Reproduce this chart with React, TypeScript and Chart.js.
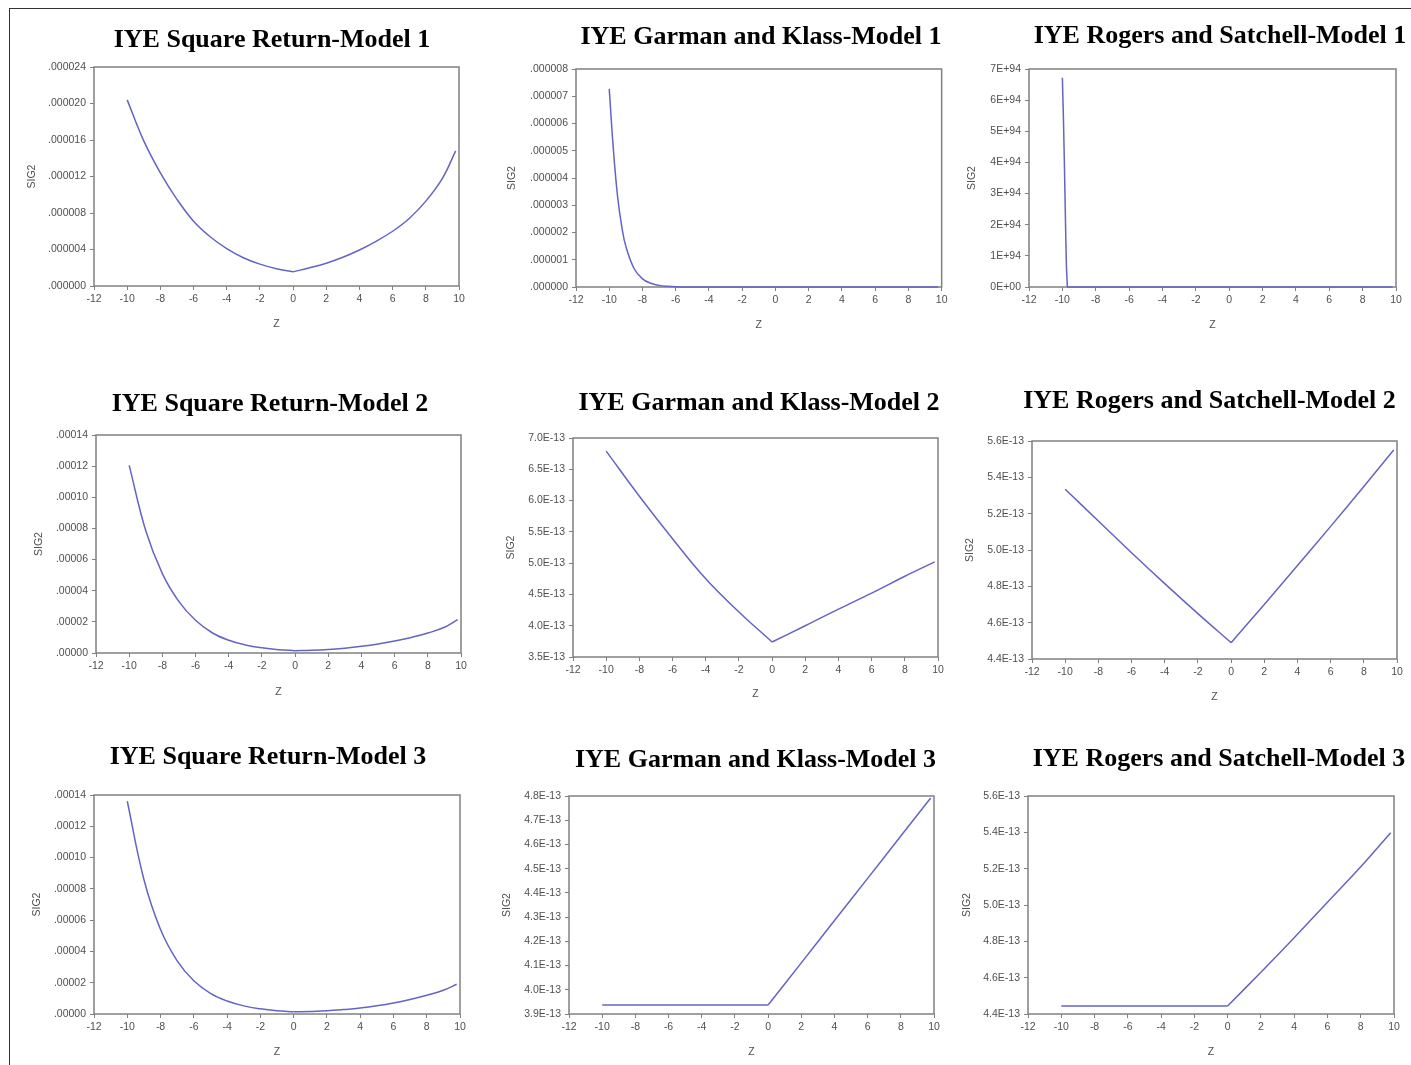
import React, { useEffect, useRef } from 'react';
import { Chart, registerables } from 'chart.js';

Chart.register(...registerables);

// ---------- data ----------
const X_TICKS = [-12, -10, -8, -6, -4, -2, 0, 2, 4, 6, 8, 10];
const X_TICK_LABELS = ['-12', '-10', '-8', '-6', '-4', '-2', '0', '2', '4', '6', '8', '10'];

const Z_INT_LEFT = [-10, -9, -8, -7, -6, -5, -4, -3, -2, -1, 0];
const Z_INT_RIGHT = [0, 1, 2, 3, 4, 5, 6, 7, 8, 9, 9.8];
const Z_EVEN_LEFT = [-10, -8, -6, -4, -2, 0];
const Z_EVEN_RIGHT = [0, 2, 4, 6, 8, 9.8];
const GK1_Z_LEFT = [-10, -9.75, -9.5, -9.25, -9, -8.5, -8, -7.5, -7, -6.5, -6, -5, -4, -2, 0];
const RS1_Z_LEFT = [-10, -9.94, -9.88, -9.82, -9.76, -9.7, -8, -6, -4, -2, 0];

// Square Return - Model 1
const SR1_LEFT = [20.4e-6, 15.9e-6, 12.4e-6, 9.5e-6, 7.1e-6, 5.4e-6, 4.1e-6, 3.1e-6, 2.4e-6, 1.9e-6, 1.55e-6];
const SR1_RIGHT = [1.55e-6, 2.0e-6, 2.5e-6, 3.15e-6, 3.95e-6, 4.9e-6, 6.0e-6, 7.4e-6, 9.3e-6, 11.8e-6, 14.8e-6];
// Garman and Klass - Model 1
const GK1_LEFT = [7.27e-6, 5.04e-6, 3.33e-6, 2.23e-6, 1.49e-6, 0.67e-6, 0.30e-6, 0.135e-6, 0.06e-6, 0.027e-6, 0.012e-6, 0.0025e-6, 0.0005e-6, 0.00002e-6, 0.000001e-6];
const GK1_RIGHT = [1e-12, 1e-12, 1e-12, 2e-12, 2e-12, 3e-12];
// Rogers and Satchell - Model 1
const RS1_LEFT = [6.72e94, 5.5e94, 4.0e94, 2.3e94, 0.7e94, 0, 0, 0, 0, 0, 0];
const RS1_RIGHT = [0, 0, 0, 0, 0, 0];
// Square Return - Model 2
const SR2_LEFT = [12.05e-5, 7.85e-5, 5.1e-5, 3.3e-5, 2.1e-5, 1.3e-5, 0.82e-5, 0.52e-5, 0.33e-5, 0.21e-5, 0.15e-5];
const SR2_RIGHT = [0.15e-5, 0.17e-5, 0.22e-5, 0.31e-5, 0.43e-5, 0.58e-5, 0.77e-5, 1.0e-5, 1.28e-5, 1.65e-5, 2.14e-5];
// Garman and Klass - Model 2
const GK2_LEFT = [6.79e-13, 6.07e-13, 5.39e-13, 4.75e-13, 4.22e-13, 3.74e-13];
const GK2_RIGHT = [3.74e-13, 4.0e-13, 4.265e-13, 4.52e-13, 4.79e-13, 5.02e-13];
// Rogers and Satchell - Model 2
const RS2_LEFT = [5.334e-13, 5.16e-13, 4.985e-13, 4.815e-13, 4.65e-13, 4.49e-13];
const RS2_RIGHT = [4.49e-13, 4.70e-13, 4.915e-13, 5.13e-13, 5.35e-13, 5.55e-13];
// Square Return - Model 3
const SR3_LEFT = [13.6e-5, 8.6e-5, 5.4e-5, 3.4e-5, 2.12e-5, 1.32e-5, 0.83e-5, 0.52e-5, 0.33e-5, 0.21e-5, 0.14e-5];
const SR3_RIGHT = [0.14e-5, 0.16e-5, 0.2e-5, 0.28e-5, 0.38e-5, 0.52e-5, 0.7e-5, 0.93e-5, 1.2e-5, 1.52e-5, 1.9e-5];
// Garman and Klass - Model 3
const GK3_LEFT = [3.937e-13, 3.937e-13, 3.937e-13, 3.937e-13, 3.937e-13, 3.937e-13];
const GK3_RIGHT = [3.937e-13, 4.111e-13, 4.286e-13, 4.46e-13, 4.635e-13, 4.792e-13];
// Rogers and Satchell - Model 3
const RS3_LEFT = [4.444e-13, 4.444e-13, 4.444e-13, 4.444e-13, 4.444e-13, 4.444e-13];
const RS3_RIGHT = [4.444e-13, 4.63e-13, 4.82e-13, 5.015e-13, 5.21e-13, 5.398e-13];

// y-axis ticks
const Y_TICKS_SR1 = [0, 4e-6, 8e-6, 12e-6, 16e-6, 20e-6, 24e-6];
const Y_LABELS_SR1 = ['.000000', '.000004', '.000008', '.000012', '.000016', '.000020', '.000024'];
const Y_TICKS_GK1 = [0, 1e-6, 2e-6, 3e-6, 4e-6, 5e-6, 6e-6, 7e-6, 8e-6];
const Y_LABELS_GK1 = ['.000000', '.000001', '.000002', '.000003', '.000004', '.000005', '.000006', '.000007', '.000008'];
const Y_TICKS_RS1 = [0, 1e94, 2e94, 3e94, 4e94, 5e94, 6e94, 7e94];
const Y_LABELS_RS1 = ['0E+00', '1E+94', '2E+94', '3E+94', '4E+94', '5E+94', '6E+94', '7E+94'];
const Y_TICKS_SR23 = [0, 2e-5, 4e-5, 6e-5, 8e-5, 10e-5, 12e-5, 14e-5];
const Y_LABELS_SR23 = ['.00000', '.00002', '.00004', '.00006', '.00008', '.00010', '.00012', '.00014'];
const Y_TICKS_GK2 = [3.5e-13, 4.0e-13, 4.5e-13, 5.0e-13, 5.5e-13, 6.0e-13, 6.5e-13, 7.0e-13];
const Y_LABELS_GK2 = ['3.5E-13', '4.0E-13', '4.5E-13', '5.0E-13', '5.5E-13', '6.0E-13', '6.5E-13', '7.0E-13'];
const Y_TICKS_RS23 = [4.4e-13, 4.6e-13, 4.8e-13, 5.0e-13, 5.2e-13, 5.4e-13, 5.6e-13];
const Y_LABELS_RS23 = ['4.4E-13', '4.6E-13', '4.8E-13', '5.0E-13', '5.2E-13', '5.4E-13', '5.6E-13'];
const Y_TICKS_GK3 = [3.9e-13, 4.0e-13, 4.1e-13, 4.2e-13, 4.3e-13, 4.4e-13, 4.5e-13, 4.6e-13, 4.7e-13, 4.8e-13];
const Y_LABELS_GK3 = ['3.9E-13', '4.0E-13', '4.1E-13', '4.2E-13', '4.3E-13', '4.4E-13', '4.5E-13', '4.6E-13', '4.7E-13', '4.8E-13'];

// ---------- styles ----------
const FONT_SANS = '"Liberation Sans", Arial, sans-serif';
const FONT_SERIF = '"Liberation Serif", "Times New Roman", serif';
const LINE_COLOR = '#6464c6';
const FRAME_COLOR = '#808080';
const LABEL_COLOR = '#4f4f4f';
const TICK_FONT = 10.5;
const TITLE_FONT = 26;

type Series = { x: number[]; y: number[] };
type Panel = {
  title: string;
  cell: [number, number, number, number];
  plot: [number, number, number, number];
  titlePos: [number, number];
  sig2X: number;
  zY: number;
  yTicks: number[];
  yLabels: string[];
  series: Series[];
  smooth: boolean;
};

const PANELS: Panel[] = [
  { title: 'IYE Square Return-Model 1', cell: [0, 0, 483, 362], plot: [94, 67, 459, 286], titlePos: [272, 40.5], sig2X: 32, zY: 324, yTicks: Y_TICKS_SR1, yLabels: Y_LABELS_SR1, series: [{ x: Z_INT_LEFT, y: SR1_LEFT }, { x: Z_INT_RIGHT, y: SR1_RIGHT }], smooth: true },
  { title: 'IYE Garman and Klass-Model 1', cell: [483, 0, 467, 362], plot: [576, 69, 942, 287], titlePos: [761, 37], sig2X: 512, zY: 325, yTicks: Y_TICKS_GK1, yLabels: Y_LABELS_GK1, series: [{ x: GK1_Z_LEFT, y: GK1_LEFT }, { x: Z_EVEN_RIGHT, y: GK1_RIGHT }], smooth: true },
  { title: 'IYE Rogers and Satchell-Model 1', cell: [950, 0, 461, 362], plot: [1029, 69, 1396, 287], titlePos: [1220, 36.5], sig2X: 972, zY: 325, yTicks: Y_TICKS_RS1, yLabels: Y_LABELS_RS1, series: [{ x: RS1_Z_LEFT, y: RS1_LEFT }, { x: Z_EVEN_RIGHT, y: RS1_RIGHT }], smooth: false },

  { title: 'IYE Square Return-Model 2', cell: [0, 362, 483, 356], plot: [96, 435, 461, 653], titlePos: [270, 404], sig2X: 39, zY: 692, yTicks: Y_TICKS_SR23, yLabels: Y_LABELS_SR23, series: [{ x: Z_INT_LEFT, y: SR2_LEFT }, { x: Z_INT_RIGHT, y: SR2_RIGHT }], smooth: true },
  { title: 'IYE Garman and Klass-Model 2', cell: [483, 362, 467, 356], plot: [573, 438, 938, 657], titlePos: [759, 403], sig2X: 511, zY: 694, yTicks: Y_TICKS_GK2, yLabels: Y_LABELS_GK2, series: [{ x: Z_EVEN_LEFT, y: GK2_LEFT }, { x: Z_EVEN_RIGHT, y: GK2_RIGHT }], smooth: true },
  { title: 'IYE Rogers and Satchell-Model 2', cell: [950, 362, 461, 356], plot: [1032, 441, 1397, 659], titlePos: [1209.5, 401], sig2X: 970, zY: 697, yTicks: Y_TICKS_RS23, yLabels: Y_LABELS_RS23, series: [{ x: Z_EVEN_LEFT, y: RS2_LEFT }, { x: Z_EVEN_RIGHT, y: RS2_RIGHT }], smooth: true },

  { title: 'IYE Square Return-Model 3', cell: [0, 718, 483, 347], plot: [94, 795, 460, 1014], titlePos: [268, 757.5], sig2X: 37.5, zY: 1052, yTicks: Y_TICKS_SR23, yLabels: Y_LABELS_SR23, series: [{ x: Z_INT_LEFT, y: SR3_LEFT }, { x: Z_INT_RIGHT, y: SR3_RIGHT }], smooth: true },
  { title: 'IYE Garman and Klass-Model 3', cell: [483, 718, 467, 347], plot: [569, 796, 934, 1014], titlePos: [755.5, 760], sig2X: 507.5, zY: 1052, yTicks: Y_TICKS_GK3, yLabels: Y_LABELS_GK3, series: [{ x: Z_EVEN_LEFT, y: GK3_LEFT }, { x: Z_EVEN_RIGHT, y: GK3_RIGHT }], smooth: true },
  { title: 'IYE Rogers and Satchell-Model 3', cell: [950, 718, 461, 347], plot: [1028, 796, 1394, 1014], titlePos: [1219, 759], sig2X: 967, zY: 1052, yTicks: Y_TICKS_RS23, yLabels: Y_LABELS_RS23, series: [{ x: Z_EVEN_LEFT, y: RS3_LEFT }, { x: Z_EVEN_RIGHT, y: RS3_RIGHT }], smooth: true },
];

// ---------- plugins ----------
const panelTitlePlugin = {
  id: 'panelTitle',
  afterDraw(chart: any, _args: any, opts: any) {
    if (!opts || !opts.text) return;
    const ctx = chart.ctx;
    ctx.save();
    ctx.font = `bold ${opts.size}px ${FONT_SERIF}`;
    ctx.fillStyle = '#000000';
    ctx.textAlign = 'center';
    ctx.textBaseline = 'middle';
    ctx.fillText(opts.text, opts.x, opts.y);
    ctx.restore();
  },
};

const plotFramePlugin = {
  id: 'plotFrame',
  beforeDatasetsDraw(chart: any, _args: any, opts: any) {
    const { left, top, right, bottom } = chart.chartArea;
    const ctx = chart.ctx;
    ctx.save();
    ctx.strokeStyle = opts.color || FRAME_COLOR;
    ctx.lineWidth = opts.width || 1.5;
    ctx.strokeRect(left, top, right - left, bottom - top);
    ctx.restore();
  },
};

function PanelChart({ p }: { p: Panel }) {
  const ref = useRef<HTMLCanvasElement>(null);
  const [cx, cy, cw, ch] = p.cell;

  useEffect(() => {
    const [L, T, R, B] = p.plot;
    const half = (TICK_FONT * 1.2) / 2;
    const axisLeft = p.sig2X - half;
    const yw = L - axisLeft;
    const xh = p.zY + half - B;
    const padding = {
      left: axisLeft - cx,
      top: T - cy,
      right: cx + cw - R,
      bottom: cy + ch - B - xh,
    };
    const yMin = p.yTicks[0];
    const yMax = p.yTicks[p.yTicks.length - 1];

    const chart = new Chart(ref.current as HTMLCanvasElement, {
      type: 'line',
      data: {
        datasets: p.series.map((s) => ({
          data: s.x.map((x, i) => ({ x, y: s.y[i] })),
          borderColor: LINE_COLOR,
          borderWidth: 1.5,
          pointRadius: 0,
          fill: false,
          tension: p.smooth ? 0.4 : 0,
          cubicInterpolationMode: 'default',
          clip: false,
        })),
      } as any,
      options: {
        responsive: false,
        animation: false,
        events: [],
        layout: { padding },
        plugins: {
          legend: { display: false },
          tooltip: { enabled: false },
          title: { display: false },
          panelTitle: { text: p.title, x: p.titlePos[0] - cx, y: p.titlePos[1] - cy, size: TITLE_FONT },
          plotFrame: { color: FRAME_COLOR, width: 1.5 },
        } as any,
        scales: {
          x: {
            type: 'linear',
            min: -12,
            max: 10,
            afterBuildTicks: (s: any) => {
              s.ticks = X_TICKS.map((v) => ({ value: v }));
            },
            afterFit: (s: any) => {
              s.height = xh;
            },
            ticks: {
              autoSkip: false,
              maxRotation: 0,
              minRotation: 0,
              padding: 2.5,
              color: LABEL_COLOR,
              font: { family: FONT_SANS, size: TICK_FONT },
              callback: (_v: any, i: number) => X_TICK_LABELS[i],
            },
            grid: { display: true, drawOnChartArea: false, drawTicks: true, tickLength: 4, color: FRAME_COLOR, lineWidth: 1 },
            border: { display: false },
            title: { display: true, text: 'Z', color: LABEL_COLOR, font: { family: FONT_SANS, size: TICK_FONT }, padding: 0 },
          },
          y: {
            type: 'linear',
            min: yMin,
            max: yMax,
            afterBuildTicks: (s: any) => {
              s.ticks = p.yTicks.map((v) => ({ value: v }));
            },
            afterFit: (s: any) => {
              s.width = yw;
            },
            ticks: {
              autoSkip: false,
              padding: 4,
              color: LABEL_COLOR,
              font: { family: FONT_SANS, size: TICK_FONT },
              callback: (_v: any, i: number) => p.yLabels[i],
            },
            grid: { display: true, drawOnChartArea: false, drawTicks: true, tickLength: 4, color: FRAME_COLOR, lineWidth: 1 },
            border: { display: false },
            title: { display: true, text: 'SIG2', color: LABEL_COLOR, font: { family: FONT_SANS, size: TICK_FONT }, padding: 0 },
          },
        } as any,
      },
      plugins: [panelTitlePlugin, plotFramePlugin] as any,
    });
    return () => chart.destroy();
  }, [p]);

  return (
    <canvas
      ref={ref}
      width={cw}
      height={ch}
      style={{ position: 'absolute', left: cx, top: cy, width: cw, height: ch }}
    />
  );
}

export default function App() {
  return (
    <div
      style={{
        position: 'absolute',
        left: 0,
        top: 0,
        width: 1411,
        height: 1065,
        overflow: 'hidden',
        background: '#ffffff',
      }}
    >
      <div
        style={{
          position: 'absolute',
          left: 9,
          top: 8,
          width: 1411,
          height: 1065,
          borderTop: '1.5px solid #333333',
          borderLeft: '1.5px solid #333333',
        }}
      />
      {PANELS.map((p, i) => (
        <PanelChart key={i} p={p} />
      ))}
    </div>
  );
}
